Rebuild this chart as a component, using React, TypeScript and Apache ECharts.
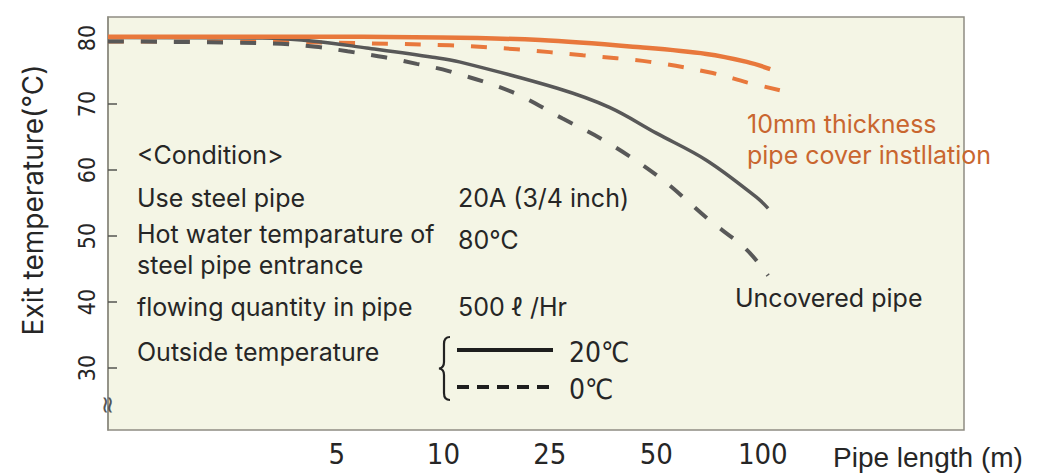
import React, { useEffect, useRef } from "react";
import * as echarts from "echarts";

// ---- data ----
// x axis: evenly spaced pipe-length ticks (axis position units)
const xTickLabels = ["5", "10", "25", "50", "100"];
const xTickPositions = [2, 3, 4, 5, 6];
const yTickValues = [30, 40, 50, 60, 70, 80];

// 10mm pipe cover, outside 20℃ (orange solid)
const coveredWarm: [number, number][] = [
  [-0.15, 80.2], [1.5, 80.2], [2.97, 80.1], [3.91, 79.7], [4.85, 78.6],
  [5.47, 77.6], [5.85, 76.4], [6.07, 75.3],
];
// 10mm pipe cover, outside 0℃ (orange dashed)
const coveredCold: [number, number][] = [
  [-0.15, 79.5], [1.5, 79.4], [3.06, 78.9], [3.69, 78.3], [4.31, 77.4],
  [4.94, 76.4], [5.53, 74.7], [5.85, 73.3], [6.16, 72.1],
];
// uncovered pipe, outside 20℃ (gray solid)
const bareWarm: [number, number][] = [
  [-0.15, 80.1], [1.3, 80.0], [1.81, 79.5], [2.28, 78.5], [2.9, 77.1],
  [3.15, 76.4], [4.07, 72.4], [4.56, 69.5], [5.0, 65.6], [5.47, 61.5],
  [5.94, 55.9], [6.05, 54.2],
];
// uncovered pipe, outside 0℃ (gray dashed)
const bareCold: [number, number][] = [
  [-0.15, 79.5], [1.4, 79.2], [1.8, 78.7], [2.1, 78.0], [2.45, 77.1],
  [2.75, 76.1], [3.05, 75.0], [3.65, 71.8], [4.12, 67.8], [4.54, 64.2],
  [5.03, 58.9], [5.5, 52.4], [5.85, 47.9], [6.05, 44.0],
];

const conditionTitle = "<Condition>";
const conditionRows = [
  "Use steel pipe",
  "Hot water temparature of\nsteel pipe entrance",
  "flowing quantity in pipe",
  "Outside temperature",
];
const conditionValues = ["20A (3/4 inch)", "80℃", "500 ℓ /Hr"];
const legendLabels = ["20℃", "0℃"];
const coverLabel = "10mm thickness\npipe cover instllation";
const bareLabel = "Uncovered pipe";
const yTitle = "Exit temperature(℃)";
const xTitle = "Pipe length (m)";

// brace shape
const BraceShape = echarts.graphic.extendPath(
  "M10 0 Q4 0 4 7 L4 25 Q4 31 -1 31.5 Q4 32 4 38 L4 56 Q4 63 10 63",
  {}
);
echarts.graphic.registerShape("brace", BraceShape);

const ORANGE = "#e8783c";
const ORANGE_TEXT = "#c9662f";
const GRAY = "#585858";
const TEXT = "#262626";
const MAIN_FONT = "Inter, 'Open Sans', sans-serif";
const NARROW_FONT = "'Liberation Sans Narrow', 'DejaVu Sans Condensed', 'Liberation Sans', sans-serif";

export default function App() {
  const ref = useRef<HTMLDivElement>(null);

  useEffect(() => {
    document.body.style.margin = "0";
    if (!ref.current) return;
    const chart = echarts.init(ref.current, undefined, { renderer: "svg" });

    const txt = (
      text: string,
      x: number,
      y: number,
      opts: Record<string, any> = {}
    ) => ({
      type: "text",
      x,
      y,
      rotation: opts.rotation || 0,
      z: 10,
      style: {
        text,
        fill: opts.fill || TEXT,
        fontSize: opts.fontSize || 25,
        lineHeight: opts.lineHeight || 31,
        fontFamily: opts.fontFamily || MAIN_FONT,
        align: opts.align || "left",
        verticalAlign: "middle",
      },
    });

    const rowY = [198, 249, 307, 352];
    const valY = [198, 240, 307];

    const graphic: any[] = [
      txt(yTitle, 33, 200, { rotation: Math.PI / 2, align: "center", fontSize: 28, lineHeight: 34 }),
      txt(xTitle, 833, 457, { fontSize: 28, lineHeight: 30, fontFamily: "'Liberation Sans', Arial, sans-serif" }),
      txt(conditionTitle, 137, 155),
      ...conditionRows.map((t, i) => txt(t, 137, rowY[i])),
      ...conditionValues.map((t, i) => txt(t, 458, valY[i])),
      txt(coverLabel, 747, 139, { fill: ORANGE_TEXT }),
      txt(bareLabel, 735, 298),
      txt(legendLabels[0], 569, 352, { fontSize: 28, lineHeight: 30, fontFamily: NARROW_FONT }),
      txt(legendLabels[1], 569, 389, { fontSize: 28, lineHeight: 30, fontFamily: NARROW_FONT }),
      txt("≈", 107, 405, { rotation: Math.PI / 2, align: "center", fontSize: 24, lineHeight: 24, fill: "#555", fontFamily: "'DejaVu Sans', sans-serif" }),
      {
        type: "brace",
        x: 440,
        y: 337,
        z: 10,
        style: { stroke: "#222", lineWidth: 2.2, fill: "none" },
      },
      {
        type: "line",
        z: 10,
        shape: { x1: 457, y1: 350, x2: 553, y2: 350 },
        style: { stroke: "#1e1e1e", lineWidth: 4 },
      },
      {
        type: "line",
        z: 10,
        shape: { x1: 457, y1: 387, x2: 553, y2: 387 },
        style: { stroke: "#1e1e1e", lineWidth: 4, lineDash: [12, 8] },
      },
    ];

    const mkSeries = (
      data: [number, number][],
      color: string,
      width: number,
      dashed: boolean,
      z: number
    ) => ({
      type: "line",
      data,
      smooth: 0.35,
      symbol: "none",
      z,
      lineStyle: {
        color,
        width,
        type: dashed ? [16, 17] : "solid",
        cap: "butt",
      },
    });

    chart.setOption({
      animation: false,
      backgroundColor: "#ffffff",
      grid: {
        left: 108,
        right: 86,
        top: 17,
        bottom: 43,
        show: true,
        backgroundColor: "#f4f5e5",
        borderColor: "#8e8c82",
        borderWidth: 1.5,
      },
      xAxis: {
        type: "value",
        min: -0.15,
        max: 7.89,
        axisLine: { show: false, onZero: false },
        axisTick: { show: false },
        splitLine: { show: false },
        axisLabel: {
          customValues: xTickPositions,
          formatter: (v: number) => {
            const i = xTickPositions.indexOf(Math.round(v));
            return i >= 0 ? xTickLabels[i] : "";
          },
          margin: 9,
          fontSize: 29,
          lineHeight: 30,
          fontFamily: NARROW_FONT,
          color: TEXT,
        },
      },
      yAxis: {
        type: "value",
        min: 20.6,
        max: 83.2,
        axisLine: { show: true, onZero: false, lineStyle: { color: "#8e8c82", width: 1.5 } },
        splitLine: { show: false },
        axisTick: {
          show: true,
          inside: true,
          length: 9,
          customValues: yTickValues,
          lineStyle: { color: "#555550", width: 1.5 },
        },
        axisLabel: {
          customValues: yTickValues,
          rotate: 90,
          margin: 10,
          fontSize: 23,
          fontFamily: NARROW_FONT,
          color: TEXT,
        },
      },
      series: [
        mkSeries(coveredCold, ORANGE, 4, true, 2),
        mkSeries(bareCold, GRAY, 4, true, 3),
        mkSeries(bareWarm, GRAY, 3.5, false, 4),
        mkSeries(coveredWarm, ORANGE, 4.5, false, 5),
      ],
      graphic,
    });

    return () => chart.dispose();
  }, []);

  return <div ref={ref} style={{ width: 1050, height: 473 }} />;
}
